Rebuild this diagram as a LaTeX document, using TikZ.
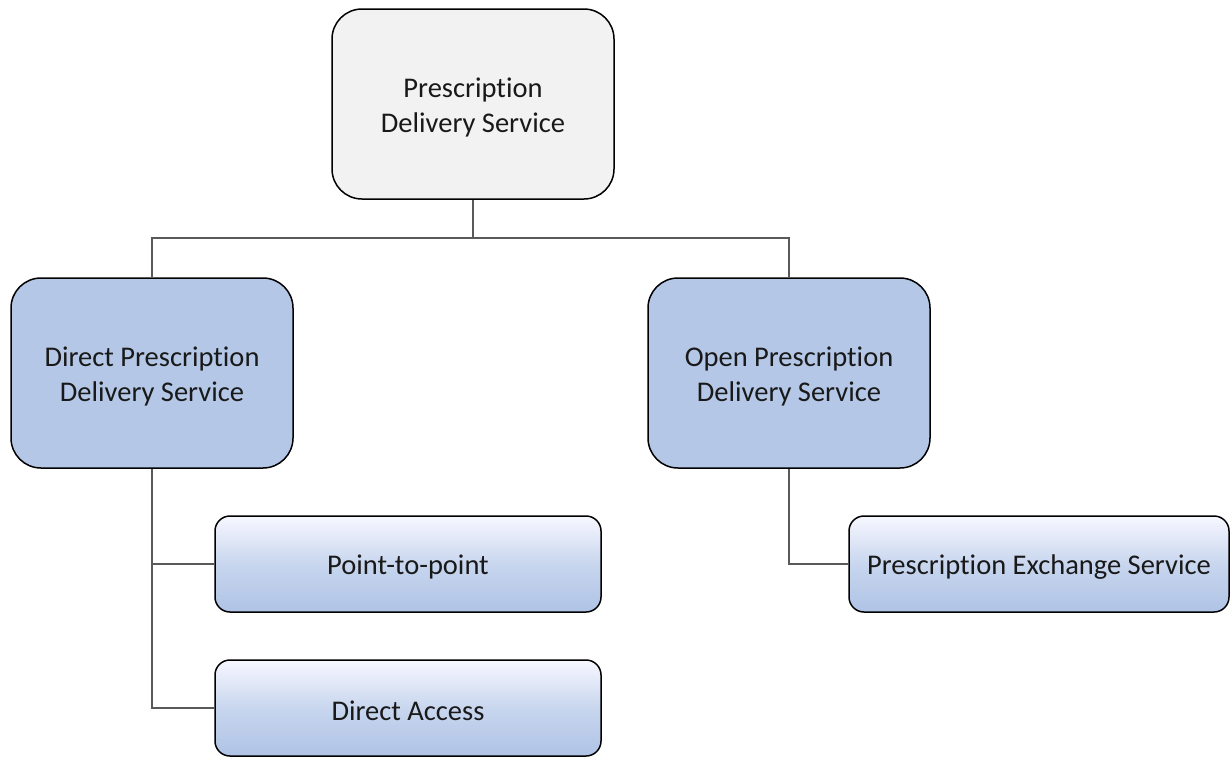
\documentclass[tikz,border=0pt]{standalone}
\usepackage{fontspec}
\setmainfont[Ligatures=NoCommon]{Carlito}
\begin{document}
\begin{tikzpicture}[x=1pt,y=-1pt,
  txt/.style={font=\fontsize{28.5}{35}\selectfont, align=center, text=black!90},
  caption/.style={label={[txt,yshift=-3pt]center:{#1}}},
  bigbox/.style={draw=black, line width=1.5pt, rounded corners=30pt, minimum width=282pt, minimum height=190pt},
  leafbox/.style={draw=black, line width=1.5pt, rounded corners=15pt, minimum height=96pt,
    top color=blue!3!white, bottom color={rgb,255:red,175;green,195;blue,230}, middle color={rgb,255:red,200;green,214;blue,238}},
  link/.style={draw=black!65, line width=1.3pt}
]
\definecolor{rootfill}{RGB}{242,242,242}
\definecolor{midfill}{RGB}{180,199,231}
\useasboundingbox (0,0) rectangle (1231,756);

\node[bigbox, fill=rootfill, caption={Prescription\\Delivery Service}] (root) at (473,104) {};
\node[bigbox, fill=midfill, caption={Direct Prescription\\Delivery Service}] (direct) at (152,373) {};
\node[bigbox, fill=midfill, caption={Open Prescription\\Delivery Service}] (open) at (789,373) {};

\node[leafbox, minimum width=386pt, caption={Point-to-point}] (p2p) at (408,564) {};
\node[leafbox, minimum width=386pt, caption={Direct Access}] (access) at (408,708) {};
\node[leafbox, minimum width=380pt, caption={Prescription Exchange Service}] (pes) at (1039,564) {};

\coordinate (split) at (473,238);
\draw[link] (root.south) -- (split);
\draw[link] (direct.north) |- (split) -| (open.north);
\draw[link] (direct.south) |- (p2p.west);
\draw[link] (direct.south) |- (access.west);
\draw[link] (open.south) |- (pes.west);
\end{tikzpicture}
\end{document}
